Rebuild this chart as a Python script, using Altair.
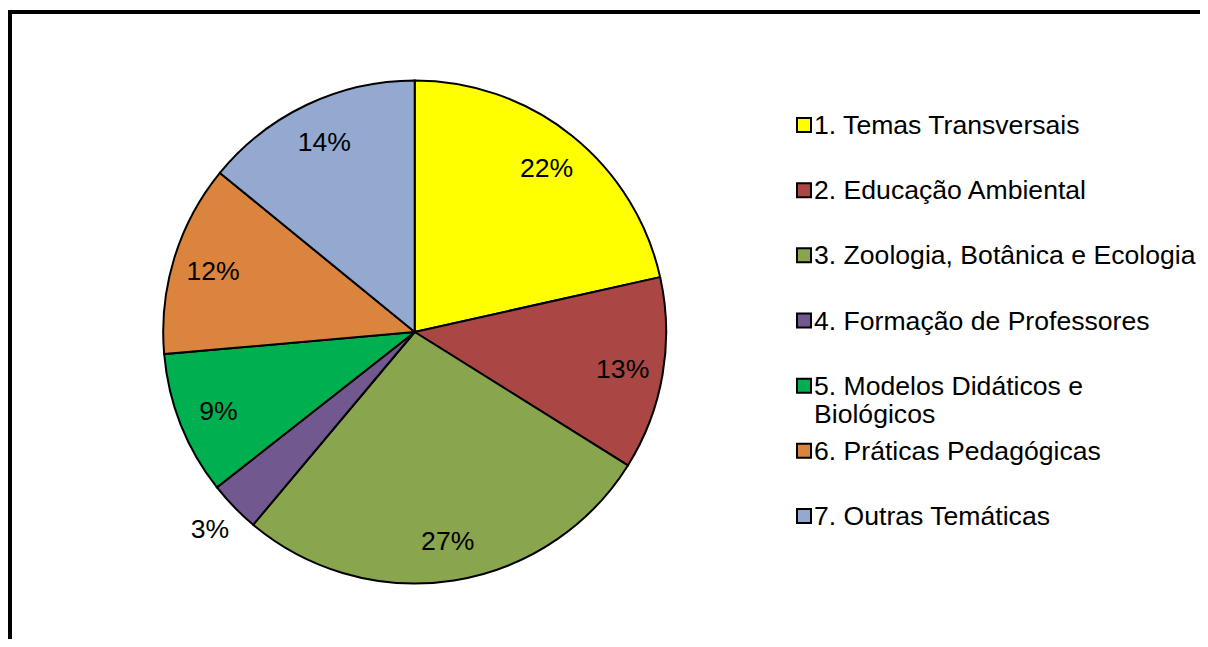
import altair as alt
import pandas as pd

categories = [
    "1. Temas Transversais",
    "2. Educação Ambiental",
    "3. Zoologia, Botânica e Ecologia",
    "4. Formação de Professores",
    "5. Modelos Didáticos e\nBiológicos",
    "6. Práticas Pedagógicas",
    "7. Outras Temáticas",
]
values = [21.5, 12.4, 27.2, 3.3, 9.2, 12.3, 14.1]
pct_labels = ["22%", "13%", "27%", "3%", "9%", "12%", "14%"]
colors = ["#FFFF00", "#AA4643", "#89A54E", "#71588F", "#00B050", "#DB843D", "#93A9CF"]

df = pd.DataFrame({
    "idx": list(range(1, len(categories) + 1)),
    "cat": categories,
    "value": values,
    "pct": pct_labels,
})

FONT = "Liberation Sans"
FS = 26.6
CX, CY = 406.7, 324
R = 251.5

color = alt.Color("cat:N", scale=alt.Scale(domain=categories, range=colors), legend=None)
theta = alt.Theta("value:Q", stack=True)
order = alt.Order("idx:Q", sort="ascending")

base = alt.Chart(df)

pie = base.mark_arc(outerRadius=R, stroke="black", strokeWidth=2).encode(
    theta=theta, color=color, order=order,
    x=alt.value(CX), y=alt.value(CY),
)

lab_in = base.transform_calculate(
    t="datum.value >= 5 ? datum.pct : ''"
).mark_text(radius=211, fontSize=FS, font=FONT, color="black", baseline="middle", align="center", dy=2).encode(
    theta=theta, order=order, text="t:N",
    x=alt.value(CX), y=alt.value(CY),
)

lab_out = base.transform_calculate(
    t="datum.value < 5 ? datum.pct : ''"
).mark_text(radius=285, fontSize=FS, font=FONT, color="black", baseline="middle", align="center").encode(
    theta=theta, order=order, text="t:N",
    x=alt.value(CX), y=alt.value(CY),
)

ypos = alt.Y("idx:Q", scale=alt.Scale(domain=[1, 7], range=[117, 508]), axis=None)

leg_sq = base.mark_square(size=196, stroke="black", strokeWidth=2, opacity=1).encode(
    x=alt.value(796), y=ypos, color=color,
)

leg_txt = base.mark_text(
    align="left", baseline="alphabetic", dy=9, fontSize=FS, font=FONT,
    color="black", lineBreak="\n", lineHeight=28,
).encode(
    x=alt.value(806), y=ypos, text="cat:N",
)

frame_left = base.mark_rule(color="black", strokeWidth=4).encode(
    x=alt.value(2), y=alt.value(2), y2=alt.value(700),
)
frame_top = base.mark_rule(color="black", strokeWidth=4).encode(
    y=alt.value(4), x=alt.value(0), x2=alt.value(1400),
)

chart = alt.layer(pie, lab_in, lab_out, leg_sq, leg_txt, frame_left, frame_top).properties(
    width=1192, height=631,
    autosize=alt.AutoSizeParams(type="none"),
    padding=0,
    background="white",
).configure_view(stroke=None)

chart.save("out.html", embed_options={"renderer": "svg", "actions": False})
